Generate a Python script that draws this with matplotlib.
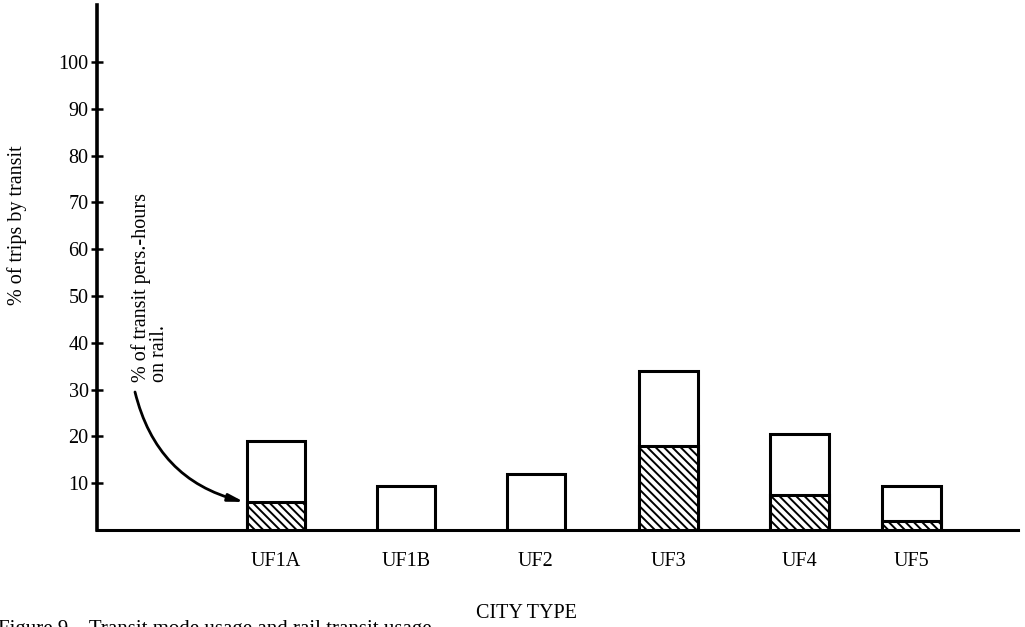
import matplotlib
matplotlib.use("Agg")
import matplotlib.pyplot as plt

# Share of trips made by transit, and the rail part of it, per city type
city_types = ["UF1A", "UF1B", "UF2", "UF3", "UF4", "UF5"]
transit_pct = [19, 9.5, 12, 34, 20.5, 9.5]
rail_pct = [6, 0, 0, 18, 7.5, 2]
y_ticks = [10, 20, 30, 40, 50, 60, 70, 80, 90, 100]

# bar slots along the axis (uneven spacing as in the printed figure)
slots = [0, 1.0, 2.0, 3.02, 4.03, 4.89]
bar_w = 0.45

plt.rcParams["font.family"] = ["Liberation Serif", "DejaVu Serif"]
plt.rcParams["hatch.linewidth"] = 1.4
plt.rcParams["hatch.color"] = "black"

W, H = 1025, 627
FS = 14.5
fig = plt.figure(figsize=(W / 100, H / 100), dpi=100)
ax = fig.add_axes([97 / W, 1 - 530 / H, (1018 - 97) / W, (530 - 5) / H])

# outlined total bars, then the hatched rail share at the bottom
ax.bar(slots, transit_pct, width=bar_w, facecolor="white",
       edgecolor="black", linewidth=2.2, zorder=2)
rail_slots = [s for s, r in zip(slots, rail_pct) if r > 0]
rail_vals = [r for r in rail_pct if r > 0]
ax.bar(rail_slots, rail_vals, width=bar_w, facecolor="white",
       edgecolor="black", linewidth=2.2, hatch="\\\\\\\\", zorder=3)

ax.set_xlim(-1.377, 5.71)
ax.set_ylim(0, 112.2)

for side in ("top", "right"):
    ax.spines[side].set_visible(False)
ax.spines["left"].set_linewidth(2.6)
ax.spines["bottom"].set_linewidth(2.2)

ax.set_yticks(y_ticks)
ax.set_yticklabels([str(t) for t in y_ticks], fontsize=FS)
ax.tick_params(axis="y", direction="inout", length=8, width=1.8, pad=2)
ax.set_xticks(slots)
ax.set_xticklabels(city_types, fontsize=FS)
ax.tick_params(axis="x", length=0, pad=16)

# y-axis title and x-axis title
fig.text(17 / W, 1 - 225 / H, "% of trips by transit", rotation=90,
         ha="center", va="center", fontsize=FS)
fig.text(577 / W, 1 - 618 / H, "CITY TYPE", ha="right", va="baseline",
         fontsize=FS)

# callout explaining the hatched part
fig.text(131 / W, 1 - 382 / H, "% of transit pers.-hours\non rail.",
         rotation=90, rotation_mode="anchor", ha="left", va="top",
         multialignment="left", fontsize=FS, linespacing=0.95)
ax.annotate("", xy=(slots[0] - bar_w / 2 - 0.02, rail_pct[0]),
            xytext=(135, H - 392), textcoords="figure pixels",
            arrowprops=dict(arrowstyle="-|>,head_length=0.9,head_width=0.22",
                            connectionstyle="arc3,rad=0.3", color="black",
                            lw=2, shrinkA=0, shrinkB=0))

# figure caption, running off the bottom edge
fig.text(-2 / W, 1 - 634 / H, "Figure 9.   Transit mode usage and rail transit usage",
         ha="left", va="baseline", fontsize=15)

fig.savefig("out.png", dpi=100)
